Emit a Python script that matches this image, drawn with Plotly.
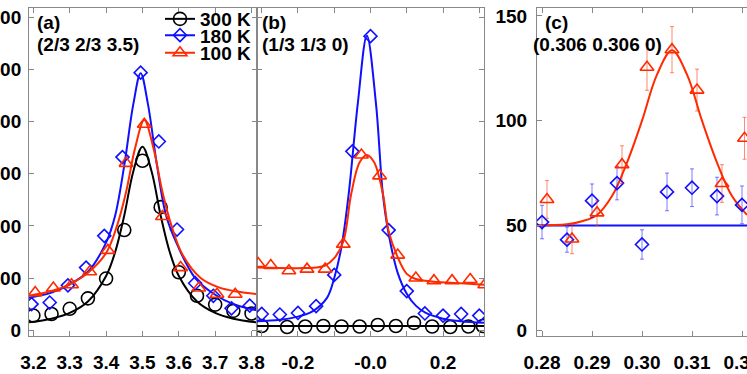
import plotly.graph_objects as go
from plotly.subplots import make_subplots

# ---- panel (a): (2/3 2/3 3.5) ----
a_x_300 = [3.20, 3.25, 3.30, 3.35, 3.40, 3.45, 3.50, 3.55, 3.60, 3.65, 3.70, 3.75, 3.80]
a_y_300 = [28, 31, 41, 61, 99, 192, 325, 236, 111, 66, 49, 37, 32]
a_x_180 = [3.195, 3.245, 3.295, 3.345, 3.395, 3.445, 3.495, 3.545, 3.595, 3.645, 3.695, 3.745, 3.795]
a_y_180 = [50, 53, 86, 120, 181, 332, 494, 362, 193, 90, 66, 42, 47]
a_x_100 = [3.205, 3.255, 3.305, 3.355, 3.405, 3.455, 3.505, 3.555, 3.605, 3.655, 3.705, 3.755]
a_y_100 = [72, 81, 87, 112, 153, 320, 395, 218, 120, 81, 69, 69]

# fit curves
a_fx_300 = [3.188, 3.25, 3.30, 3.35, 3.40, 3.425, 3.45, 3.475, 3.50, 3.525, 3.55, 3.575, 3.60, 3.65, 3.70, 3.75, 3.815]
a_fy_300 = [15, 22, 33, 55, 104, 150, 220, 305, 352, 305, 220, 150, 104, 55, 33, 22, 15]
a_fx_180 = [3.188, 3.25, 3.30, 3.35, 3.40, 3.425, 3.45, 3.475, 3.495, 3.515, 3.54, 3.565, 3.595, 3.645, 3.70, 3.75, 3.815]
a_fy_180 = [62, 72, 88, 112, 168, 220, 316, 434, 493, 434, 316, 220, 165, 100, 68, 50, 38]
a_fx_100 = [3.188, 3.25, 3.30, 3.35, 3.40, 3.43, 3.455, 3.48, 3.505, 3.53, 3.555, 3.58, 3.61, 3.66, 3.71, 3.76, 3.815]
a_fy_100 = [66, 75, 88, 110, 148, 200, 265, 350, 403, 350, 265, 200, 145, 100, 82, 74, 69]

# ---- panel (b): (1/3 1/3 0) ----
b_x_300 = [-0.30, -0.23, -0.18, -0.13, -0.08, -0.03, 0.02, 0.07, 0.12, 0.17, 0.22, 0.27, 0.31]
b_y_300 = [8, 6, 7, 8, 7, 7, 10, 8, 14, 7, 6, 7, 8]
b_x_180 = [-0.30, -0.25, -0.20, -0.15, -0.10, -0.05, 0.0, 0.05, 0.10, 0.15, 0.20, 0.25, 0.30]
b_y_180 = [31, 30, 33, 46, 106, 343, 564, 192, 75, 32, 28, 31, 28]
b_x_100 = [-0.31, -0.275, -0.225, -0.175, -0.125, -0.075, -0.025, 0.025, 0.075, 0.125, 0.175, 0.225, 0.275, 0.315]
b_y_100 = [128, 124, 114, 117, 117, 165, 336, 296, 144, 100, 95, 95, 97, 87]

b_fx_300 = [-0.313, 0.313]
b_fy_300 = [8, 8]
b_fx_180 = [-0.313, -0.25, -0.20, -0.16, -0.12, -0.10, -0.08, -0.06, -0.035, -0.01, 0.015, 0.034, 0.05, 0.075, 0.10, 0.125, 0.15, 0.20, 0.25, 0.313]
b_fy_180 = [17, 20, 26, 36, 62, 100, 160, 262, 435, 565, 435, 262, 185, 110, 70, 47, 34, 22, 17, 14]
b_fx_100 = [-0.313, -0.20, -0.15, -0.125, -0.10, -0.075, -0.053, -0.03, -0.01, 0.01, 0.034, 0.05, 0.075, 0.10, 0.125, 0.175, 0.25, 0.313]
b_fy_100 = [120, 119, 120, 124, 138, 170, 262, 322, 336, 322, 262, 190, 140, 108, 98, 93, 90, 87]

# ---- panel (c): (0.306 0.306 0) ----
c_x_180 = [0.280, 0.285, 0.290, 0.295, 0.300, 0.305, 0.310, 0.315, 0.320]
c_y_180 = [51.6, 43.2, 61.8, 70.2, 40.9, 66, 68, 64, 59.8]
c_e_180 = [8, 6, 8, 8, 7, 9, 9, 9, 9]
c_x_100 = [0.281, 0.286, 0.291, 0.296, 0.301, 0.306, 0.311, 0.316, 0.3205]
c_y_100 = [62.4, 43.5, 56, 79, 125.5, 133.9, 114.6, 70, 91.6]
c_e_100 = [9, 7, 6, 9, 11, 11, 10, 9, 10]

c_fx_180 = [0.279, 0.321]
c_fy_180 = [50, 50]
c_fx_100 = [0.279, 0.285, 0.288, 0.291, 0.294, 0.297, 0.300, 0.303, 0.306, 0.309, 0.312, 0.315, 0.318, 0.321]
c_fy_100 = [50, 50.5, 52, 55, 64, 80, 100, 122, 133.6, 122, 100, 80, 64, 55]

BLACK = "#000000"
BLUE = "#1010ff"
RED = "#ff2a00"
FONT = dict(family="Liberation Sans, Arial, sans-serif", size=19, color="black", weight="bold")
AXC = "#888888"

fig = make_subplots(rows=1, cols=3)

series = [
    ("300 K", BLACK, "circle-open", 13),
    ("180 K", BLUE, "diamond-open", 10),
    ("100 K", RED, "triangle-up-open", 12),
]

panel_a = [(a_x_300, a_y_300, a_fx_300, a_fy_300),
           (a_x_180, a_y_180, a_fx_180, a_fy_180),
           (a_x_100, a_y_100, a_fx_100, a_fy_100)]
panel_b = [(b_x_300, b_y_300, b_fx_300, b_fy_300),
           (b_x_180, b_y_180, b_fx_180, b_fy_180),
           (b_x_100, b_y_100, b_fx_100, b_fy_100)]

for col, panel in [(1, panel_a), (2, panel_b)]:
    for (name, color, sym, size), (x, y, fx, fy) in zip(series, panel):
        fig.add_trace(go.Scatter(x=fx, y=fy, mode="lines", line=dict(color=color, width=2, shape="spline"),
                                 showlegend=False), row=1, col=col)
        fig.add_trace(go.Scatter(x=x, y=y, mode="markers",
                                 marker=dict(symbol=sym, size=size, color=color, line=dict(width=1.6, color=color)),
                                 showlegend=False), row=1, col=col)

# panel c: no 300 K data
fig.add_trace(go.Scatter(x=c_fx_180, y=c_fy_180, mode="lines", line=dict(color=BLUE, width=2),
                         showlegend=False), row=1, col=3)
fig.add_trace(go.Scatter(x=c_fx_100, y=c_fy_100, mode="lines", line=dict(color=RED, width=2, shape="spline"),
                         showlegend=False), row=1, col=3)
fig.add_trace(go.Scatter(x=c_x_180, y=c_y_180, mode="markers",
                         error_y=dict(type="data", array=c_e_180, color="rgba(16,16,255,0.55)", thickness=1, width=2),
                         marker=dict(symbol="diamond-open", size=10, color=BLUE, line=dict(width=1.6, color=BLUE)),
                         showlegend=False), row=1, col=3)
fig.add_trace(go.Scatter(x=c_x_100, y=c_y_100, mode="markers",
                         error_y=dict(type="data", array=c_e_100, color="rgba(255,42,0,0.55)", thickness=1, width=2),
                         marker=dict(symbol="triangle-up-open", size=12, color=RED, line=dict(width=1.6, color=RED)),
                         showlegend=False), row=1, col=3)

# legend entries (one legend per row so the rows sit tightly)
legend_rows = [(336 - 11) / 336, (336 - 28) / 336, (336 - 46) / 336]
for i, (name, color, sym, size) in enumerate(series):
    lg = "legend" if i == 0 else f"legend{i + 1}"
    fig.add_trace(go.Scatter(x=[None], y=[None], mode="lines+markers", name=name, legend=lg,
                             line=dict(color=color, width=2),
                             marker=dict(symbol=sym, size=size, color=color, line=dict(width=1.6, color=color))),
                  row=1, col=1)

leg = dict(x=160 / 747, xanchor="left", yanchor="middle", bgcolor="rgba(0,0,0,0)",
           font=FONT, itemwidth=30, borderwidth=0)
fig.update_layout(legend=dict(leg, y=legend_rows[0]),
                  legend2=dict(leg, y=legend_rows[1]),
                  legend3=dict(leg, y=legend_rows[2]))

axis_common = dict(showgrid=False, zeroline=False, showline=True, linecolor=AXC, linewidth=1,
                   ticks="inside", ticklen=5, tickcolor=AXC, tickfont=FONT, automargin=False,
                   ticklabeloverflow="allow")

fig.update_xaxes(axis_common, mirror="ticks", ticklabelstandoff=9)
fig.update_xaxes(domain=[29 / 747, 257 / 747], range=[3.188, 3.815],
                 tickvals=[3.2, 3.3, 3.4, 3.5, 3.6, 3.7, 3.8], row=1, col=1)
fig.update_xaxes(domain=[257 / 747, 484 / 747], range=[-0.313, 0.313],
                 tickvals=[-0.3, -0.2, -0.1, 0.0, 0.1, 0.2, 0.3],
                 ticktext=["", "-0.2", "", "-0.0", "", "0.2", ""], row=1, col=2)
fig.update_xaxes(domain=[537 / 747, 1.0], range=[0.279, 0.321],
                 tickvals=[0.28, 0.29, 0.30, 0.31, 0.32],
                 ticktext=["0.28", "0.29", "0.30", "0.31", "0.32"], row=1, col=3)

fig.update_yaxes(axis_common)
fig.update_yaxes(range=[-11.2, 618], tickvals=[0, 100, 200, 300, 400, 500, 600], mirror="ticks",
                 ticklabelstandoff=3, row=1, col=1)
fig.update_yaxes(range=[-11.2, 618], tickvals=[0, 100, 200, 300, 400, 500, 600], mirror="ticks",
                 showticklabels=False, row=1, col=2)
fig.update_yaxes(range=[-2.8, 153.8], tickvals=[0, 50, 100, 150], mirror=False,
                 ticklabelstandoff=5, row=1, col=3)

labels = [
    ("(a)", 35, 15), ("(2/3 2/3 3.5)", 35, 37),
    ("(b)", 260, 15), ("(1/3 1/3 0)", 260, 37),
    ("(c)", 543, 15), ("(0.306 0.306 0)", 531, 37),
]
for text, px, py in labels:
    fig.add_annotation(text=text, xref="paper", yref="paper", x=px / 747, y=(336 - py) / 336,
                       xanchor="left", yanchor="middle", showarrow=False, font=FONT)

fig.update_layout(
    width=747, height=374,
    margin=dict(l=0, r=0, t=0, b=38, pad=0),
    plot_bgcolor="white", paper_bgcolor="white",
    font=FONT,
)

fig.write_html("out.html", config={"displayModeBar": False},
               post_script="document.body.style.margin='0px';")
